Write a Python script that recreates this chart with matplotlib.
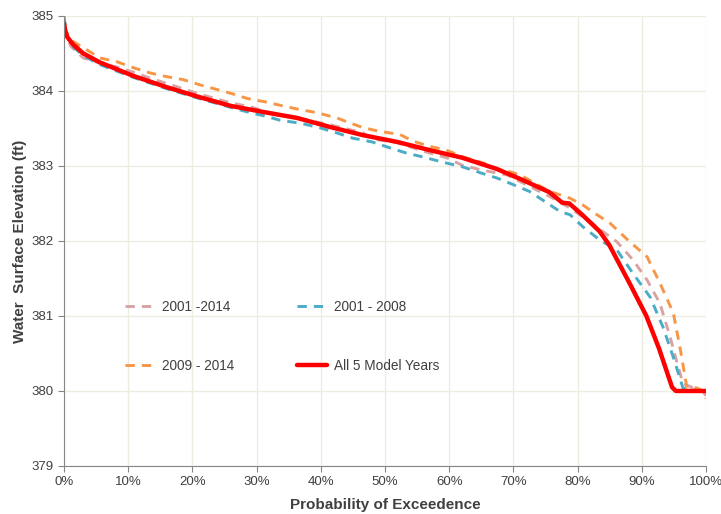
import matplotlib
matplotlib.use("Agg")
import matplotlib.pyplot as plt
from matplotlib.ticker import FuncFormatter

plt.rcParams['font.family'] = ['Liberation Sans', 'DejaVu Sans']

# ---- data (probability of exceedence in %, water surface elevation in ft) ----
x_all = [0, 0.2, 0.5, 1.4, 3, 5.6, 10.8, 16, 21, 26, 31, 36.3, 41.4, 46.6, 51.9, 57, 62,
         67.4, 71.5, 75.6, 77.6, 78.7, 80.7, 83.4, 84.9, 88, 90.7, 92.7, 94.7, 95.3, 100]
y_all = [384.9, 384.8, 384.72, 384.62, 384.5, 384.38, 384.2, 384.05, 383.92, 383.8, 383.72,
         383.64, 383.52, 383.41, 383.32, 383.21, 383.11, 382.96, 382.81, 382.65, 382.51,
         382.5, 382.35, 382.13, 381.95, 381.45, 381.0, 380.56, 380.05, 380.0, 380.0]

x_0914 = [0, 1, 3.5, 5.6, 8.2, 10.8, 13.4, 16, 18.6, 21.2, 23.8, 26.3, 28.5, 31.6, 33.6, 36.8,
          39.4, 42.5, 44, 46.6, 49.2, 52.3, 54.4, 57, 59.6, 62.1, 65.3, 67.4, 70, 71.5, 73.5,
          75.7, 78.8, 80.8, 83, 85, 88.1, 90.8, 92.8, 94.9, 96, 97, 98.6, 99.5, 100]
y_0914 = [384.85, 384.68, 384.55, 384.44, 384.39, 384.31, 384.24, 384.19, 384.15, 384.08,
          384.02, 383.96, 383.9, 383.85, 383.81, 383.75, 383.71, 383.64, 383.59, 383.51,
          383.46, 383.42, 383.33, 383.26, 383.21, 383.12, 383.04, 382.96, 382.91, 382.86,
          382.76, 382.66, 382.57, 382.48, 382.35, 382.24, 381.99, 381.79, 381.44, 381.04,
          380.55, 380.05, 380.04, 380.0, 379.9]

x_0114 = [0, 1, 3, 5.6, 8.2, 10.8, 13.4, 16, 21, 26, 29, 31.6, 36.3, 41.4, 46.6, 48, 51.9,
          54.4, 57, 59.6, 62, 64.8, 69, 72, 75.7, 78.8, 82, 84, 86.1, 88.6, 90.8, 92.8, 94.4,
          95.5, 96.4, 98, 99.5, 100]
y_0114 = [384.85, 384.6, 384.44, 384.37, 384.32, 384.25, 384.17, 384.1, 383.96, 383.84,
          383.79, 383.72, 383.64, 383.55, 383.44, 383.36, 383.31, 383.24, 383.17, 383.11,
          383.01, 382.95, 382.88, 382.75, 382.59, 382.44, 382.25, 382.12, 381.99, 381.75,
          381.48, 381.17, 380.72, 380.37, 380.1, 380.04, 380.0, 379.93]

x_0108 = [0, 0.3, 1, 3, 5.6, 10.8, 16, 21, 26, 29, 31.6, 33.6, 36.8, 39.8, 42.5, 45, 48, 50.8,
          53.4, 55.9, 59, 62, 64.8, 67.4, 70, 72.5, 75.7, 77.3, 78.8, 80.8, 83.5, 86.1, 88.6,
          91.3, 93.3, 94.9, 96, 96.4, 99, 100]
y_0108 = [385.0, 384.8, 384.62, 384.47, 384.35, 384.18, 384.03, 383.9, 383.78, 383.71,
          383.66, 383.61, 383.57, 383.51, 383.44, 383.37, 383.32, 383.24, 383.17, 383.12,
          383.05, 382.99, 382.91, 382.84, 382.75, 382.66, 382.48, 382.39, 382.35, 382.19,
          382.01, 381.88, 381.57, 381.25, 380.85, 380.45, 380.15, 380.04, 380.0, 379.97]

x_ticks = [0, 10, 20, 30, 40, 50, 60, 70, 80, 90, 100]
y_ticks = [379, 380, 381, 382, 383, 384, 385]

labels = ["2001 -2014", "2001 - 2008", "2009 - 2014", "All 5 Model Years"]
colors = ["#D9A3A3", "#4BACC6", "#F79646", "#FF0000"]

fig = plt.figure(figsize=(7.21, 5.14), dpi=100)
ax = fig.add_axes([0.0888, 0.0934, 0.8905, 0.8756])

dash = (3.2, 2.4)
h1, = ax.plot(x_0114, y_0114, color=colors[0], lw=2.1, dashes=dash, label=labels[0])
h2, = ax.plot(x_0108, y_0108, color=colors[1], lw=2.1, dashes=dash, label=labels[1])
h3, = ax.plot(x_0914, y_0914, color=colors[2], lw=2.1, dashes=dash, label=labels[2])
h4, = ax.plot(x_all, y_all, color=colors[3], lw=3.2, label=labels[3], solid_capstyle='round')

ax.set_xlim(0, 100)
ax.set_ylim(379, 385)
ax.set_xticks(x_ticks)
ax.set_yticks(y_ticks)
ax.xaxis.set_major_formatter(FuncFormatter(lambda v, p: f"{int(v)}%"))
ax.grid(True, color="#EEECE1", lw=1.0)
ax.set_axisbelow(True)
for s in ["top", "right"]:
    ax.spines[s].set_visible(False)
for s in ["left", "bottom"]:
    ax.spines[s].set_color("#868686")
ax.tick_params(colors="#868686", labelcolor="#404040", labelsize=9.5, length=4)

ax.set_xlabel("Probability of Exceedence", fontsize=11, fontweight="bold", color="#404040", labelpad=7)
ax.set_ylabel("Water  Surface Elevation (ft)", fontsize=11, fontweight="bold", color="#404040", labelpad=3)

leg = ax.legend([h1, h3, h2, h4], [labels[0], labels[2], labels[1], labels[3]],
                ncol=2, frameon=False, loc="center", bbox_to_anchor=(0.34, 0.288),
                fontsize=9.8, labelspacing=3.3, handlelength=2.2, handletextpad=0.5,
                columnspacing=4.6)
for t in leg.get_texts():
    t.set_color("#404040")

fig.savefig("out.png", dpi=100)
